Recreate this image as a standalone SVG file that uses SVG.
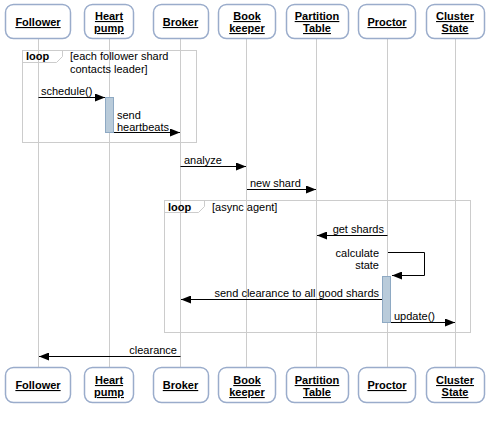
<svg xmlns="http://www.w3.org/2000/svg" width="503" height="424" viewBox="0 0 503 424">
<defs>
<style>
.box{fill:#fff;stroke:#9aaccb;stroke-width:1.5}
.bt{font-family:"Liberation Sans",Arial,sans-serif;font-size:11px;font-weight:bold;text-decoration:underline;text-anchor:middle;fill:#000}
.life{stroke:#cccccc;stroke-width:1;fill:none}
.frame{stroke:#cccccc;stroke-width:1;fill:none}
.msg{stroke:#000;stroke-width:1;fill:none}
.t{font-family:"Liberation Sans",Arial,sans-serif;font-size:11px;fill:#000}
.tr{font-family:"Liberation Sans",Arial,sans-serif;font-size:11px;fill:#000;text-anchor:end}
.lb{font-family:"Liberation Sans",Arial,sans-serif;font-size:11px;font-weight:bold;fill:#000}
.act{fill:#b9cbda;stroke:#8ea9c3;stroke-width:1}
</style>
<marker id="ah" markerWidth="10" markerHeight="8" refX="10" refY="4" orient="auto" markerUnits="userSpaceOnUse">
<path d="M0,0 L10,4 L0,8 Z" fill="#000"/>
</marker>
</defs>
<rect width="503" height="424" fill="#fff"/>
<g id="lifelines">
<line class="life" x1="38.5" y1="39" x2="38.5" y2="367"/>
<line class="life" x1="109.5" y1="39" x2="109.5" y2="367"/>
<line class="life" x1="180.5" y1="39" x2="180.5" y2="367"/>
<line class="life" x1="246.5" y1="39" x2="246.5" y2="367"/>
<line class="life" x1="316.5" y1="39" x2="316.5" y2="367"/>
<line class="life" x1="387.5" y1="39" x2="387.5" y2="367"/>
<line class="life" x1="455.5" y1="39" x2="455.5" y2="367"/>
</g>
<g id="loop1">
<rect class="frame" x="22.5" y="50.5" width="174" height="92"/>
<path class="frame" d="M22.5,62.5 H56.5 L62.5,56.5 V50.5"/>
<text class="lb" x="26" y="60">loop</text>
<text class="t" x="70" y="60">[each follower shard</text>
<text class="t" x="70" y="73">contacts leader]</text>
</g>
<g id="loop2">
<rect class="frame" x="164.5" y="200.5" width="306" height="132"/>
<path class="frame" d="M164.5,212.5 H198.5 L204.5,206.5 V200.5"/>
<text class="lb" x="168" y="211">loop</text>
<text class="t" x="212" y="211">[async agent]</text>
</g>
<g id="activations">
<rect class="act" x="105.5" y="97.5" width="8" height="35"/>
<rect class="act" x="382.5" y="276.5" width="8" height="46"/>
</g>
<g id="connectors">
<line class="msg" x1="38.5" y1="97.5" x2="105" y2="97.5" marker-end="url(#ah)"/>
<text class="t" x="41" y="95">schedule()</text>
<line class="msg" x1="114" y1="132.5" x2="180" y2="132.5" marker-end="url(#ah)"/>
<text class="t" x="117" y="119">send</text>
<text class="t" x="117" y="131">heartbeats</text>
<line class="msg" x1="180.5" y1="166.5" x2="246" y2="166.5" marker-end="url(#ah)"/>
<text class="t" x="184" y="164">analyze</text>
<line class="msg" x1="247" y1="189.5" x2="316" y2="189.5" marker-end="url(#ah)"/>
<text class="t" x="250" y="187">new shard</text>
<line class="msg" x1="387.5" y1="235.5" x2="317" y2="235.5" marker-end="url(#ah)"/>
<text class="tr" x="384" y="233">get shards</text>
<path class="msg" d="M388,252.5 H424.5 V275.5 H392" marker-end="url(#ah)"/>
<text class="tr" x="379" y="257">calculate</text>
<text class="tr" x="379" y="269">state</text>
<line class="msg" x1="382" y1="299.5" x2="181" y2="299.5" marker-end="url(#ah)"/>
<text class="tr" x="379" y="297">send clearance to all good shards</text>
<line class="msg" x1="391" y1="322.5" x2="455" y2="322.5" marker-end="url(#ah)"/>
<text class="t" x="394" y="320">update()</text>
<line class="msg" x1="180.5" y1="356.5" x2="39" y2="356.5" marker-end="url(#ah)"/>
<text class="tr" x="177" y="354">clearance</text>
</g>
<g id="node-follower-top"><rect class="box" x="5.5" y="4.5" width="65" height="34" rx="8"/><text class="bt" x="38" y="26">Follower</text></g>
<g id="node-heartpump-top"><rect class="box" x="84.5" y="4.5" width="49" height="34" rx="8"/><text class="bt" x="109" y="20">Heart</text><text class="bt" x="109" y="32">pump</text></g>
<g id="node-broker-top"><rect class="box" x="153.5" y="4.5" width="55" height="34" rx="8"/><text class="bt" x="180.5" y="26">Broker</text></g>
<g id="node-bookkeeper-top"><rect class="box" x="218.5" y="4.5" width="57" height="34" rx="8"/><text class="bt" x="247" y="20">Book</text><text class="bt" x="247" y="32">keeper</text></g>
<g id="node-partition-top"><rect class="box" x="286.5" y="4.5" width="62" height="34" rx="8"/><text class="bt" x="317" y="20">Partition</text><text class="bt" x="317" y="32">Table</text></g>
<g id="node-proctor-top"><rect class="box" x="358.5" y="4.5" width="57" height="34" rx="8"/><text class="bt" x="387" y="26">Proctor</text></g>
<g id="node-cluster-top"><rect class="box" x="426.5" y="4.5" width="58" height="34" rx="8"/><text class="bt" x="455" y="20">Cluster</text><text class="bt" x="455" y="32">State</text></g>
<g id="node-follower-bottom"><rect class="box" x="5.5" y="367.5" width="65" height="35" rx="8"/><text class="bt" x="38" y="389">Follower</text></g>
<g id="node-heartpump-bottom"><rect class="box" x="84.5" y="367.5" width="49" height="35" rx="8"/><text class="bt" x="109" y="384">Heart</text><text class="bt" x="109" y="396">pump</text></g>
<g id="node-broker-bottom"><rect class="box" x="153.5" y="367.5" width="55" height="35" rx="8"/><text class="bt" x="180.5" y="389">Broker</text></g>
<g id="node-bookkeeper-bottom"><rect class="box" x="218.5" y="367.5" width="57" height="35" rx="8"/><text class="bt" x="247" y="384">Book</text><text class="bt" x="247" y="396">keeper</text></g>
<g id="node-partition-bottom"><rect class="box" x="286.5" y="367.5" width="62" height="35" rx="8"/><text class="bt" x="317" y="384">Partition</text><text class="bt" x="317" y="396">Table</text></g>
<g id="node-proctor-bottom"><rect class="box" x="358.5" y="367.5" width="57" height="35" rx="8"/><text class="bt" x="387" y="389">Proctor</text></g>
<g id="node-cluster-bottom"><rect class="box" x="426.5" y="367.5" width="58" height="35" rx="8"/><text class="bt" x="455" y="384">Cluster</text><text class="bt" x="455" y="396">State</text></g>
</svg>
